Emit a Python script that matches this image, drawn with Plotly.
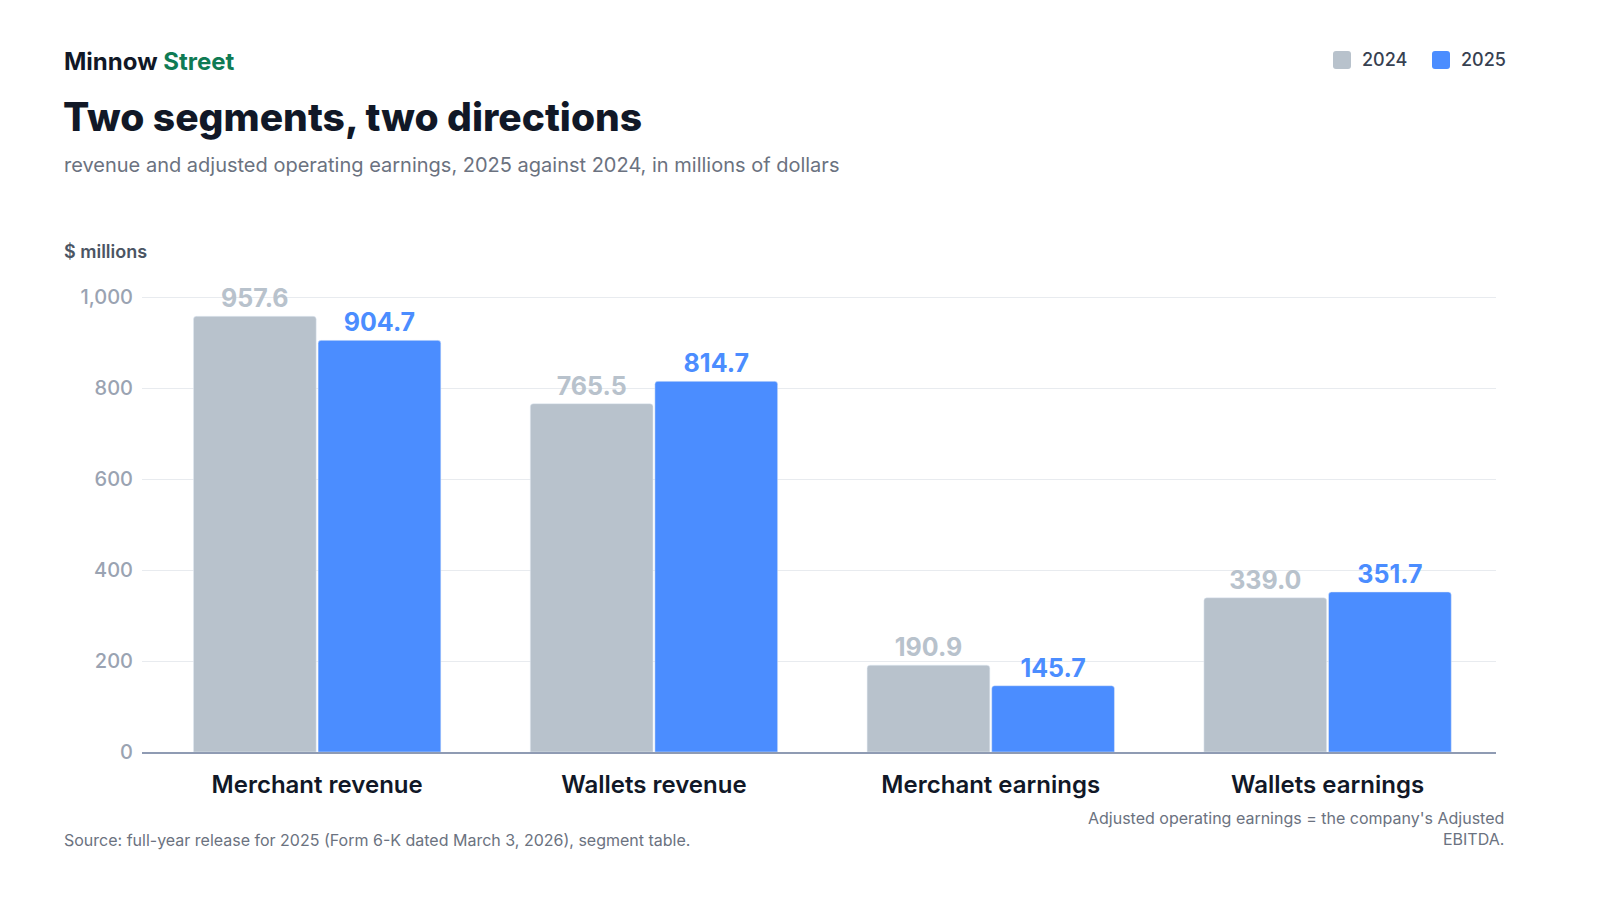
import plotly.graph_objects as go

# segment figures, $ millions
categories = ["Merchant revenue", "Wallets revenue", "Merchant earnings", "Wallets earnings"]
values_2024 = [957.6, 765.5, 190.9, 339.0]
values_2025 = [904.7, 814.7, 145.7, 351.7]
y_ticks = [0, 200, 400, 600, 800, 1000]
y_tick_labels = ["0", "200", "400", "600", "800", "1,000"]
series_names = ["2024", "2025"]

W, H = 1600, 900
M_L, M_R, M_T, M_B = 142, 104, 280, 148
PW = W - M_L - M_R
PH = H - M_T - M_B

GREY = "#b8c2cc"
BLUE = "#4b8dff"
INK = "#111827"
MUTED = "#6b7280"
FONT = "Inter"


def px_x(x):
    return (x - M_L) / PW


def px_y(y):
    return (H - M_B - y) / PH


def rounded_square(x0, y0, size, r):
    # path in paper coords for a small rounded legend swatch
    x1, y1 = x0 + size, y0 + size
    pts = [
        f"M {px_x(x0 + r)} {px_y(y0)}",
        f"L {px_x(x1 - r)} {px_y(y0)}",
        f"Q {px_x(x1)} {px_y(y0)} {px_x(x1)} {px_y(y0 + r)}",
        f"L {px_x(x1)} {px_y(y1 - r)}",
        f"Q {px_x(x1)} {px_y(y1)} {px_x(x1 - r)} {px_y(y1)}",
        f"L {px_x(x0 + r)} {px_y(y1)}",
        f"Q {px_x(x0)} {px_y(y1)} {px_x(x0)} {px_y(y1 - r)}",
        f"L {px_x(x0)} {px_y(y0 + r)}",
        f"Q {px_x(x0)} {px_y(y0)} {px_x(x0 + r)} {px_y(y0)} Z",
    ]
    return " ".join(pts)


fig = go.Figure()
for name, vals, col in [(series_names[0], values_2024, GREY), (series_names[1], values_2025, BLUE)]:
    fig.add_trace(go.Bar(
        x=categories, y=vals, name=name,
        marker=dict(color=col, cornerradius=3),
        text=[f"{v:.1f}" for v in vals], textposition="outside",
        textfont=dict(family=FONT, size=25, color=col, weight=700),
        cliponaxis=False,
    ))

fig.update_layout(
    width=W, height=H,
    margin=dict(l=M_L, r=M_R, t=M_T, b=M_B),
    paper_bgcolor="white", plot_bgcolor="white",
    barmode="group", bargap=0.26, bargroupgap=0.015,
    font=dict(family=FONT, color=INK),
    showlegend=False,
)

fig.update_xaxes(
    type="category", range=[-0.52, 3.5],
    showgrid=False, showline=True, linecolor="#8f9bb3", linewidth=2,
    ticks="", tickfont=dict(family=FONT, size=24, color=INK, weight=600),
    ticklabelstandoff=10,
)
fig.update_yaxes(
    range=[0, (H - M_B - M_T) / 0.455],
    tickvals=y_ticks, ticktext=y_tick_labels,
    showgrid=True, gridcolor="#e8ebef", gridwidth=1,
    zeroline=False, showline=False, ticks="",
    tickfont=dict(family=FONT, size=20, color="#9aa3b2", weight=500),
    ticklabelstandoff=8,
)

annotations = [
    dict(text="<b>Minnow <span style='color:#0f7b54'>Street</span></b>",
         x=px_x(62), y=px_y(61), xanchor="left", yanchor="middle",
         font=dict(family=FONT, size=24, color=INK)),
    dict(text="Two segments, two directions",
         x=px_x(61), y=px_y(116), xanchor="left", yanchor="middle",
         font=dict(family=FONT, size=39, color=INK, weight=800)),
    dict(text="revenue and adjusted operating earnings, 2025 against 2024, in millions of dollars",
         x=px_x(62), y=px_y(165), xanchor="left", yanchor="middle",
         font=dict(family=FONT, size=20, color=MUTED)),
    dict(text="$ millions",
         x=px_x(62), y=px_y(252), xanchor="left", yanchor="middle",
         font=dict(family=FONT, size=18, color="#4b5563", weight=600)),
    dict(text="Source: full-year release for 2025 (Form 6-K dated March 3, 2026), segment table.",
         x=px_x(62), y=px_y(840), xanchor="left", yanchor="middle",
         font=dict(family=FONT, size=16, color=MUTED)),
    dict(text="Adjusted operating earnings = the company's Adjusted<br>EBITDA.",
         x=px_x(1506), y=px_y(828), xanchor="right", yanchor="middle", align="right",
         font=dict(family=FONT, size=16, color=MUTED)),
]

# custom legend, top right
shapes = []
legend_items = [(series_names[0], GREY, 1333), (series_names[1], BLUE, 1432)]
for name, col, x0 in legend_items:
    shapes.append(dict(type="path", path=rounded_square(x0, 51, 18, 3),
                       xref="paper", yref="paper", fillcolor=col, line=dict(width=0)))
    annotations.append(dict(text=name, x=px_x(x0 + 27), y=px_y(60), xanchor="left", yanchor="middle",
                            font=dict(family=FONT, size=18, color="#374151", weight=500)))

for a in annotations:
    a.update(xref="paper", yref="paper", showarrow=False)
fig.update_layout(annotations=annotations, shapes=shapes)

fig.write_html(
    "out.html",
    config={"displayModeBar": False},
    post_script="document.body.style.margin='0';document.body.style.overflow='hidden';",
)
